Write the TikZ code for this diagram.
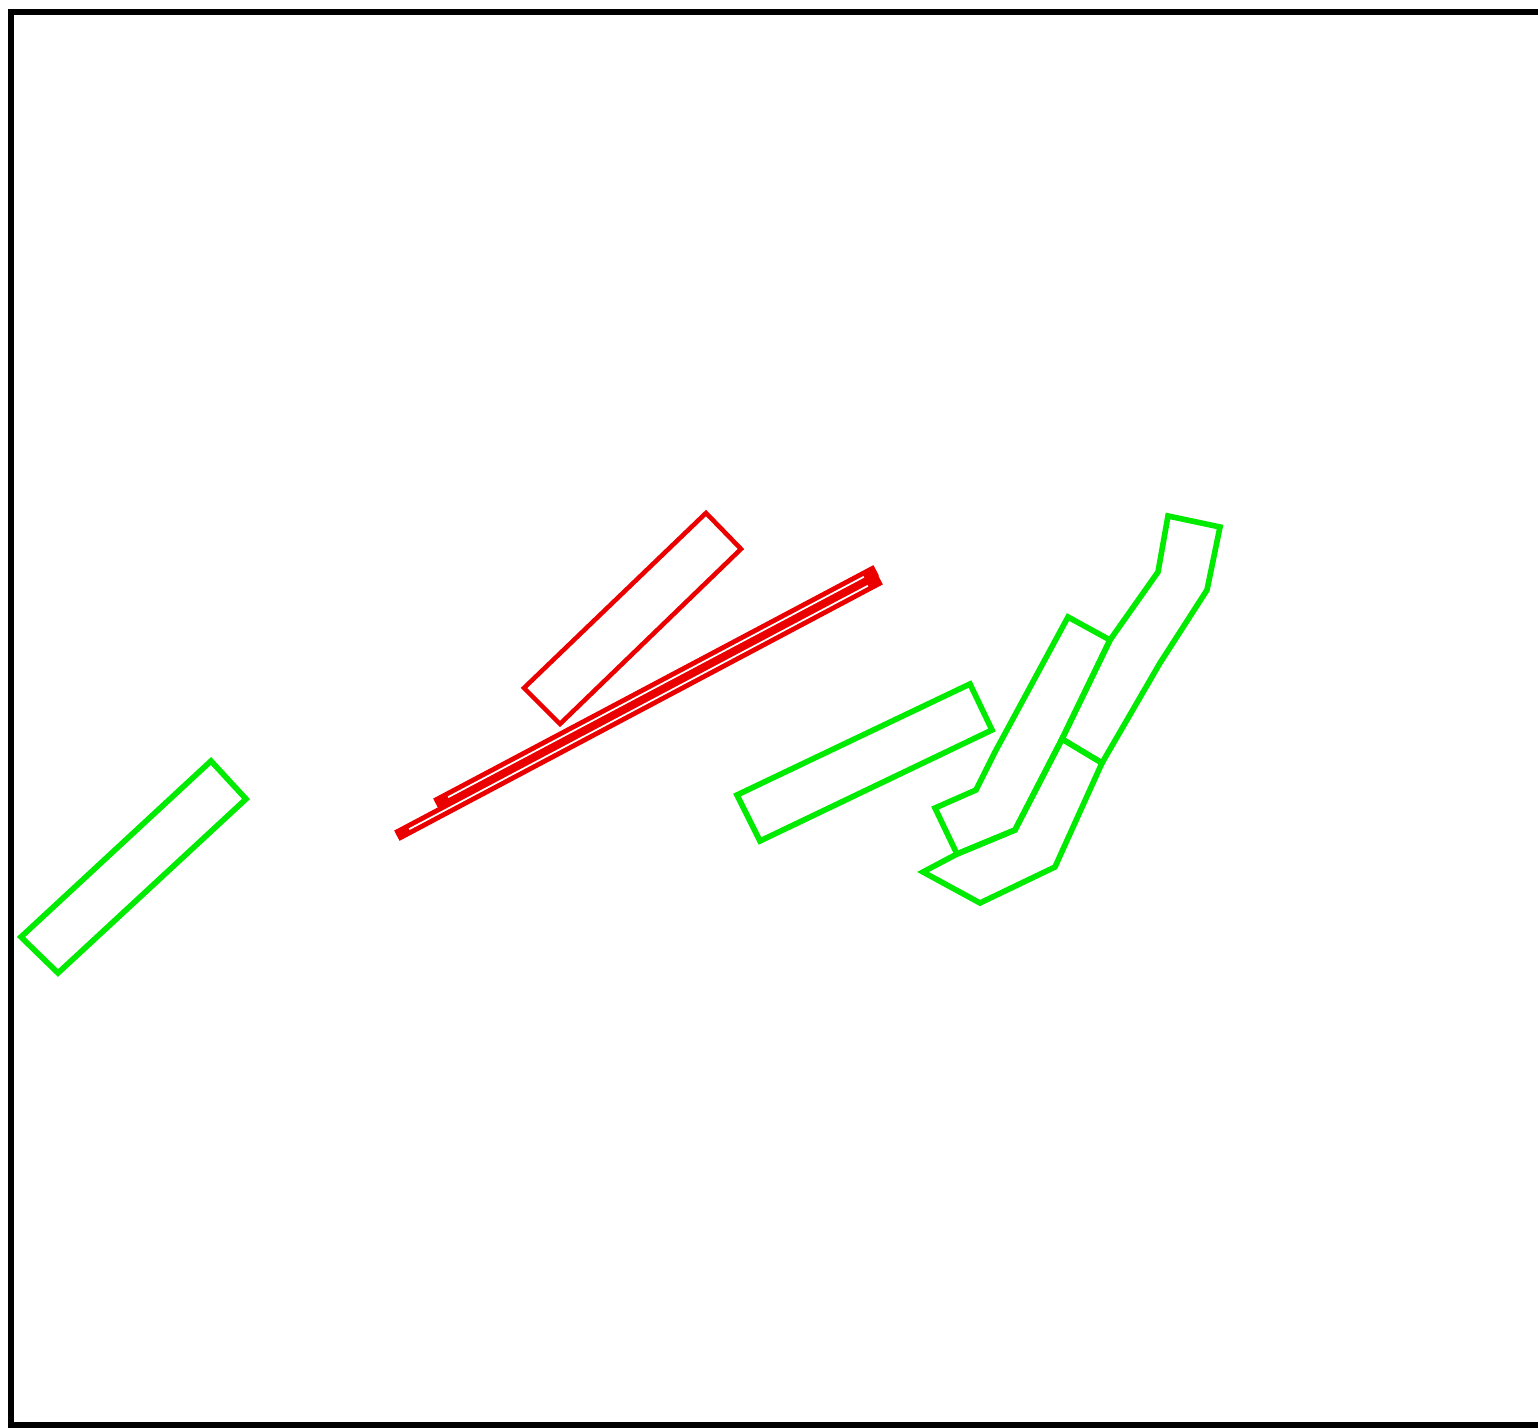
\documentclass[tikz,border=0pt]{standalone}
\usetikzlibrary{calc}
\definecolor{lgreen}{RGB}{0,235,0}
\definecolor{lred}{RGB}{235,0,0}
\tikzset{
  grn/.style={draw=lgreen, line width=1.6pt, line join=miter},
  rd/.style={draw=lred, line width=1.3pt, line join=miter},
  barout/.style={draw=lred, line width=3.3pt, line cap=rect},
  barin/.style={draw=white, line width=0.5pt, shorten >=2.3pt, shorten <=2.3pt},
  frame/.style={draw=black, line width=1.7pt}
}
\begin{document}
\begin{tikzpicture}[x=0.01cm, y=-0.01cm]
\useasboundingbox (0,0) rectangle (1538,1428);
\fill[white] (0,0) rectangle (1538,1428);
\draw[frame] (11,12) rectangle (1545,1425);

% left green rectangle
\draw[grn] (211,761) -- (246,799) -- (58,973) -- (21,937) -- cycle;

% red rectangle
\draw[rd] (706,513) -- (741,549) -- (560,724) -- (524,688) -- cycle;

% red bars
\coordinate (u1) at (441,801);
\coordinate (u2) at (871,573);
\coordinate (l1) at (402,833);
\coordinate (l2) at (875,582);
\draw[barout] (u1) -- (u2);
\draw[barout] (l1) -- (l2);
\draw[barin] (u1) -- (u2);
\draw[barin] (l1) -- (l2);

% middle green rectangle
\draw[grn] (737,795) -- (970,684) -- (992,730) -- (760,841) -- cycle;

% compound green shape
\draw[grn] (1168,516) -- (1220,527) -- (1207,590) -- (1160,663) -- (1102,763)
  -- (1062,739) -- (1110,640) -- (1158,572) -- cycle;
\draw[grn] (1068,617) -- (1110,640) -- (1062,739) -- (1015,830) -- (957,854)
  -- (935,808) -- (976,790) -- (995,752) -- cycle;
\draw[grn] (1062,739) -- (1102,763) -- (1055,867) -- (980,903) -- (923,872)
  -- (957,854) -- (1015,830) -- cycle;
\end{tikzpicture}
\end{document}
